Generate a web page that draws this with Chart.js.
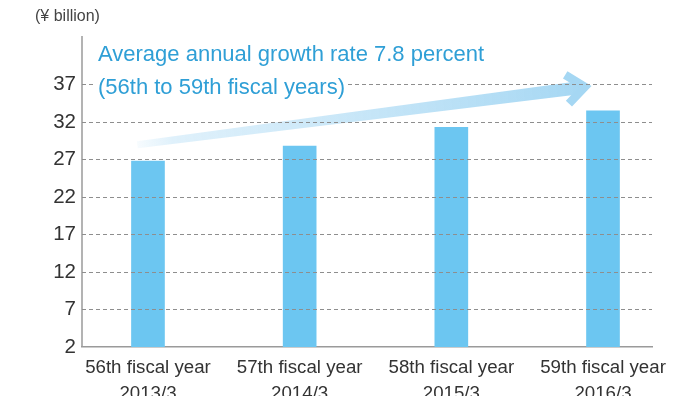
<!DOCTYPE html>
<html>
<head>
<meta charset="utf-8">
<script src="https://cdn.jsdelivr.net/npm/chart.js@4.4.1/dist/chart.umd.min.js"></script>
<style>
  html, body { margin: 0; padding: 0; background: #fff; }
  #wrap { width: 696px; height: 396px; }
</style>
</head>
<body>
<div id="wrap"><canvas id="chart" width="696" height="396"></canvas></div>
<script>
// Net sales by fiscal year (¥ billion)
const fiscalYears = ['56th fiscal year', '57th fiscal year', '58th fiscal year', '59th fiscal year'];
const periods = ['2013/3', '2014/3', '2015/3', '2016/3'];
const sales = [26.8, 28.8, 31.3, 33.5];
const yTicks = [2, 7, 12, 17, 22, 27, 32, 37];

const unitLabel = '(\u00a5 billion)';
const growthLines = ['Average annual growth rate 7.8 percent', '(56th to 59th fiscal years)'];

// growth arrow, anchored in data units (x = bar index, y = value)
const arrowFrom = [-0.07, 29.0];
const arrowTo = [2.88, 36.7];

const FONT = "'Liberation Sans', Arial, sans-serif";
const AXIS_COLOR = '#9a9a9a';

function drawArrow(ctx, x0, y0, x1, y1) {
    const ang = Math.atan2(y1 - y0, x1 - x0);
    const cos = Math.cos(ang), sin = Math.sin(ang);
    const nx = -sin, ny = cos;
    const grad = ctx.createLinearGradient(x0, y0, x1, y1);
    grad.addColorStop(0, 'rgba(215,237,250,0.2)');
    grad.addColorStop(0.08, 'rgba(215,237,250,0.8)');
    grad.addColorStop(1, 'rgba(165,215,243,1)');

    ctx.save();
    // tapered shaft
    const w0 = 3.5, w1 = 6.5;
    const ex = x1 - 4 * cos, ey = y1 - 4 * sin;
    ctx.fillStyle = grad;
    ctx.beginPath();
    ctx.moveTo(x0 + nx * w0, y0 + ny * w0);
    ctx.lineTo(ex + nx * w1, ey + ny * w1);
    ctx.lineTo(ex - nx * w1, ey - ny * w1);
    ctx.lineTo(x0 - nx * w0, y0 - ny * w0);
    ctx.closePath();
    ctx.fill();

    // open chevron head
    const L = 23, a = 0.68;
    ctx.strokeStyle = 'rgba(165,215,243,1)';
    ctx.lineWidth = 8.5;
    ctx.lineJoin = 'miter';
    ctx.lineCap = 'butt';
    ctx.beginPath();
    ctx.moveTo(x1 - L * Math.cos(ang - a), y1 - L * Math.sin(ang - a));
    ctx.lineTo(x1, y1);
    ctx.lineTo(x1 - L * Math.cos(ang + a), y1 - L * Math.sin(ang + a));
    ctx.stroke();
    ctx.restore();
}

const growthArrow = {
    id: 'growthArrow',
    beforeDatasetsDraw(chart) {
        const { ctx, chartArea, scales: { x, y } } = chart;
        // left axis line
        ctx.save();
        ctx.strokeStyle = AXIS_COLOR;
        ctx.lineWidth = 1.5;
        ctx.beginPath();
        ctx.moveTo(chartArea.left, chartArea.top);
        ctx.lineTo(chartArea.left, chartArea.bottom);
        ctx.stroke();
        ctx.restore();

        drawArrow(ctx,
            x.getPixelForValue(arrowFrom[0]), y.getPixelForValue(arrowFrom[1]),
            x.getPixelForValue(arrowTo[0]), y.getPixelForValue(arrowTo[1]));
    },
    afterDraw(chart) {
        const { ctx, chartArea } = chart;
        ctx.save();
        ctx.textBaseline = 'middle';
        ctx.textAlign = 'left';

        ctx.font = '16px ' + FONT;
        ctx.fillStyle = '#444';
        ctx.fillText(unitLabel, 35, 17);

        ctx.font = '22px ' + FONT;
        const left = chartArea.left + 16;
        const rows = [55, 88];
        growthLines.forEach((t, i) => {
            const w = ctx.measureText(t).width;
            ctx.fillStyle = '#fff';
            ctx.fillRect(left - 3, rows[i] - 12, w + 6, 24);
            ctx.fillStyle = '#2f9fd6';
            ctx.fillText(t, left, rows[i]);
        });
        ctx.restore();
    }
};

new Chart(document.getElementById('chart'), {
    type: 'bar',
    data: {
        datasets: [{
            data: sales.map((v, i) => ({ x: i, y: v })),
            backgroundColor: '#6cc6f1',
            borderWidth: 0,
            barThickness: 33
        }]
    },
    options: {
        responsive: false,
        devicePixelRatio: 1,
        animation: false,
        layout: { padding: { top: 36, right: 44, left: 0, bottom: 0 } },
        plugins: {
            legend: { display: false },
            tooltip: { enabled: false }
        },
        scales: {
            x: {
                type: 'linear',
                offset: false,
                min: -0.435,
                max: 3.323,
                afterBuildTicks: (scale) => {
                    scale.ticks = fiscalYears.map((_, i) => ({ value: i }));
                },
                afterFit: (scale) => { scale.height = 49; },
                grid: { display: false, drawTicks: false, offset: false },
                border: { display: true, color: AXIS_COLOR, width: 1.5 },
                ticks: {
                    callback: (v) => [fiscalYears[v], periods[v]],
                    color: '#333',
                    font: { family: FONT, size: 18.7, lineHeight: 1.35 },
                    padding: 8.5,
                    maxRotation: 0,
                    autoSkip: false
                }
            },
            y: {
                min: 2,
                max: 43.5,
                afterBuildTicks: (scale) => {
                    scale.ticks = yTicks.map(v => ({ value: v }));
                },
                afterFit: (scale) => { scale.width = 82; },
                grid: {
                    z: 1,
                    drawTicks: false,
                    color: (c) => c.tick && c.tick.value === yTicks[0] ? 'rgba(0,0,0,0)' : '#8e8e8e',
                    lineWidth: 1
                },
                border: { display: false, dash: [4, 3] },
                ticks: {
                    color: '#333',
                    font: { family: FONT, size: 20.5 },
                    padding: 6
                }
            }
        }
    },
    plugins: [growthArrow]
});
</script>
</body>
</html>
